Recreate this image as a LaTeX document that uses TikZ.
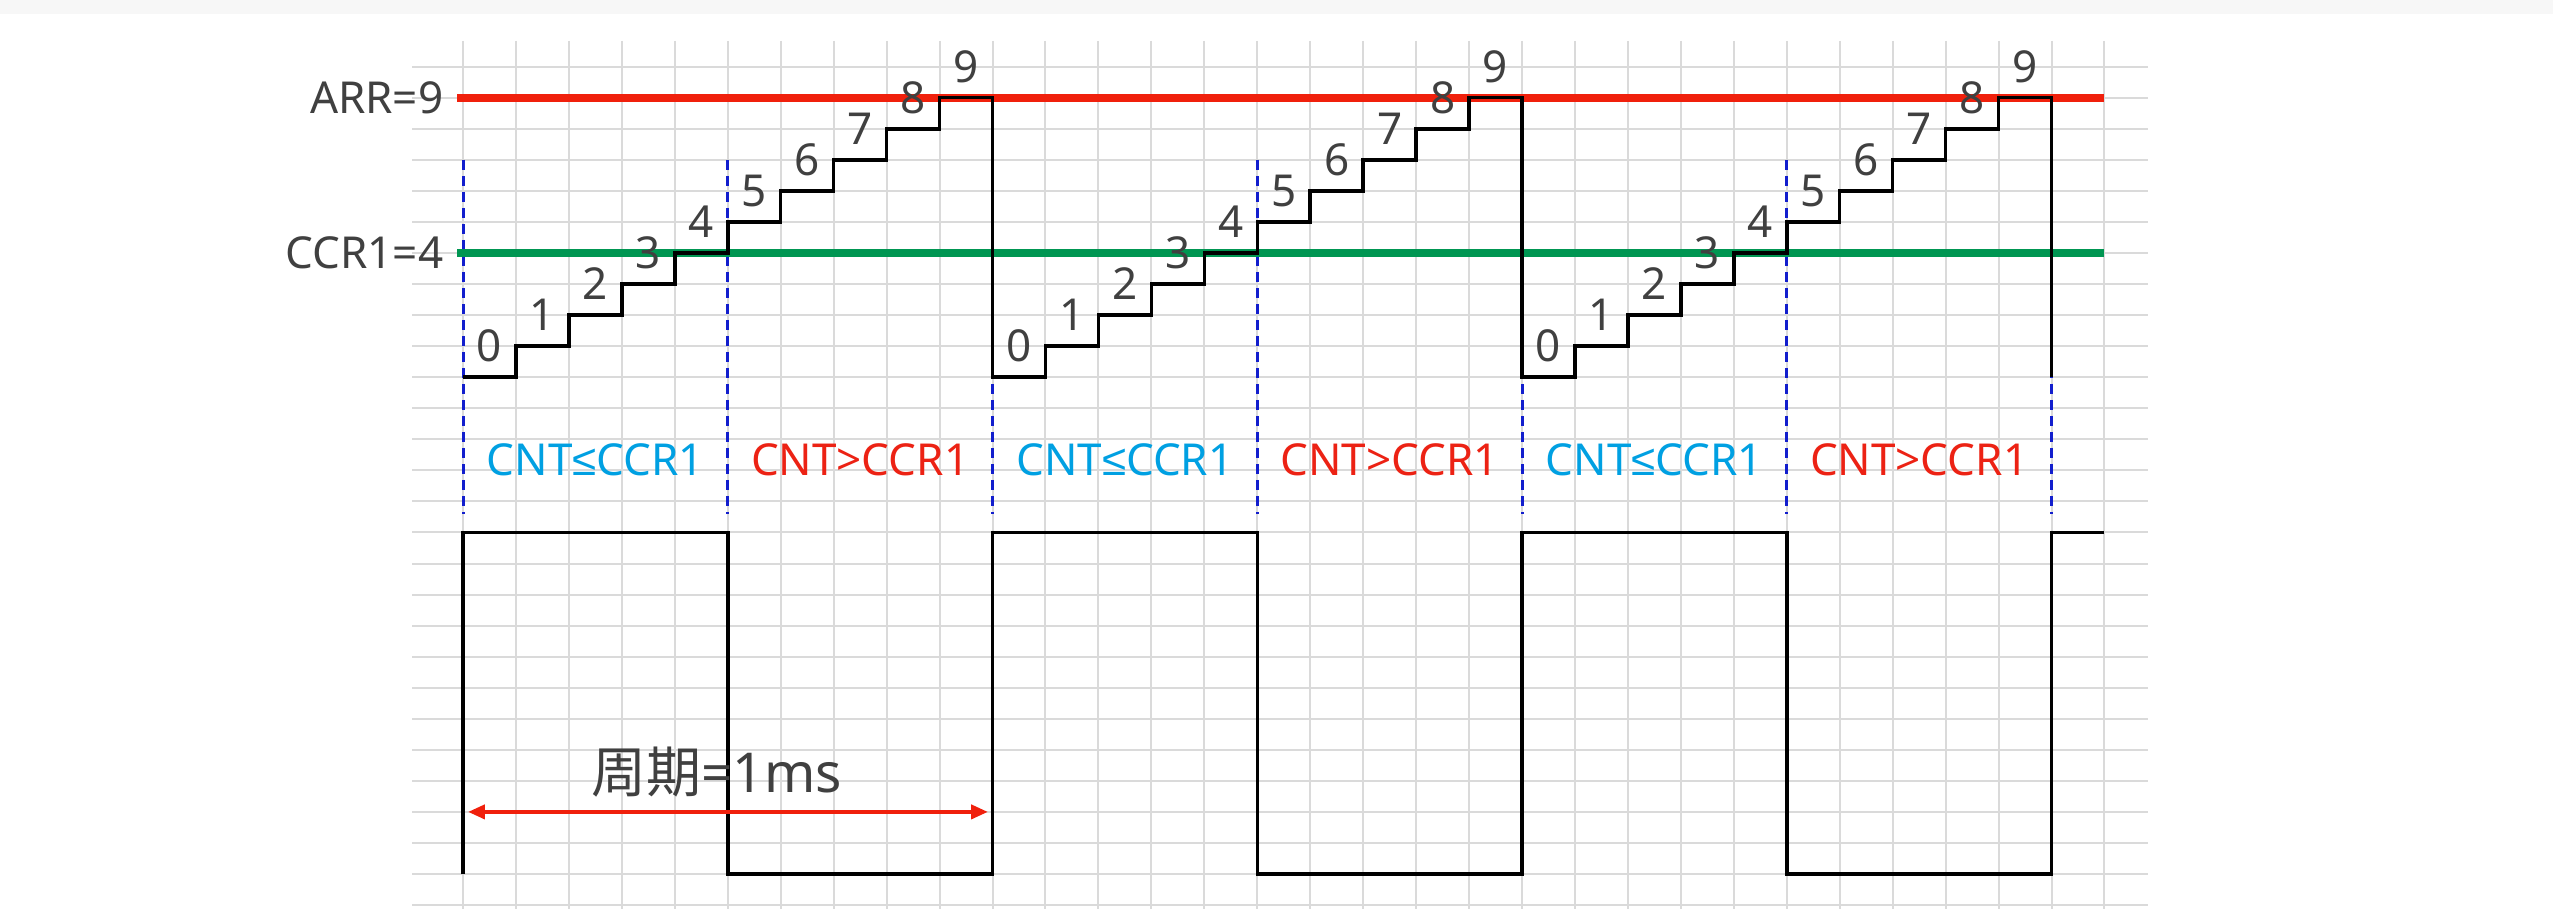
\documentclass[tikz,border=0pt]{standalone}
\usepackage{fontspec}
\setmainfont{Noto Sans}
\newfontfamily\cjk{Noto Sans CJK SC}
\newfontfamily\symfont{Liberation Sans}
\usetikzlibrary{arrows.meta}
\definecolor{gridc}{RGB}{218,218,218}
\definecolor{arrred}{RGB}{240,32,12}
\definecolor{ccrgreen}{RGB}{0,150,82}
\definecolor{dashblue}{RGB}{18,30,205}
\definecolor{txtgray}{RGB}{64,64,64}
\definecolor{cyantxt}{RGB}{0,160,226}
\definecolor{redtxt}{RGB}{236,34,20}
\definecolor{topband}{RGB}{247,247,247}
\begin{document}
\begin{tikzpicture}[x=1pt,y=-1pt,
  gridline/.style={draw=gridc, line width=2pt},
  sig/.style={draw=black, line width=3.5pt, line join=miter},
  limitline/.style={line width=8pt},
  regline/.style={draw=dashblue, line width=3pt, dash pattern=on 10pt off 6pt},
  lbl/.style={inner sep=0pt, text=txtgray, font=\fontsize{44}{50}\selectfont},
  digit/.style={lbl, anchor=base},
  region/.style={inner sep=0pt, anchor=base, font=\fontsize{44}{50}\selectfont},
  periodarrow/.style={draw=arrred, line width=4pt, {Triangle[length=17pt,width=14pt]}-{Triangle[length=17pt,width=14pt]}}]
\useasboundingbox (0,0) rectangle (2553,909);
\fill[white] (0,0) rectangle (2553,909);
\fill[topband] (0,0) rectangle (2553,14);
\begin{scope}[shift={(463,66.7)}, x=52.95pt, y=-31.05pt]
  % grid
  \foreach \j in {0,...,27} \draw[gridline] (-0.963,\j) -- (31.82,\j);
  \foreach \i in {0,...,31} \draw[gridline] (\i,-0.83) -- (\i,27.13);
  % region separators
  \foreach \i in {0,5,...,30} \draw[regline] (\i,3) -- (\i,14.4);
  % ARR and CCR1 lines
  \draw[limitline, draw=arrred] (-0.108,1) -- (31,1);
  \draw[limitline, draw=ccrgreen] (-0.108,6) -- (31,6);
  \node[lbl, anchor=base east] (arr) at (-0.37,1.5) {ARR=9};
  \node[lbl, anchor=base east] (ccr) at (-0.37,6.5) {CCR1=4};
  % counter staircase
  \draw[sig] (0,10) \foreach \p in {0,1,2}{ \foreach \k in {1,...,9}{ -- ++(1,0) -- ++(0,-1) } -- ++(1,0) -- ++(0,9) };
  \foreach \p in {0,1,2} \foreach \k in {0,...,9}
    \node[digit] (d\p\k) at ({10*\p+\k+0.5},{9.5-\k}) {\k};
  % region labels
  \foreach \p in {0,1,2} {
    \node[region, text=cyantxt] (le\p) at ({10*\p+2.5},13.18) {CNT{\symfont ≤}CCR1};
    \node[region, text=redtxt] (gt\p) at ({10*\p+7.5},13.15) {CNT>CCR1};
  }
  % PWM output
  \draw[sig] (0,26) -- (0,15) -- (5,15) -- (5,26) -- (10,26) -- (10,15) -- (15,15) -- (15,26)
    -- (20,26) -- (20,15) -- (25,15) -- (25,26) -- (30,26) -- (30,15) -- (31,15);
  % period
  \coordinate (pstart) at (0.094,24);
  \coordinate (pend) at (9.915,24);
  \draw[periodarrow] (pstart) -- (pend);
  \node[inner sep=0pt, anchor=base west, text=txtgray, font=\fontsize{55}{60}\selectfont] (period) at (2.417,23.36) {{\cjk 周期}=1ms};
\end{scope}
\end{tikzpicture}
\end{document}
